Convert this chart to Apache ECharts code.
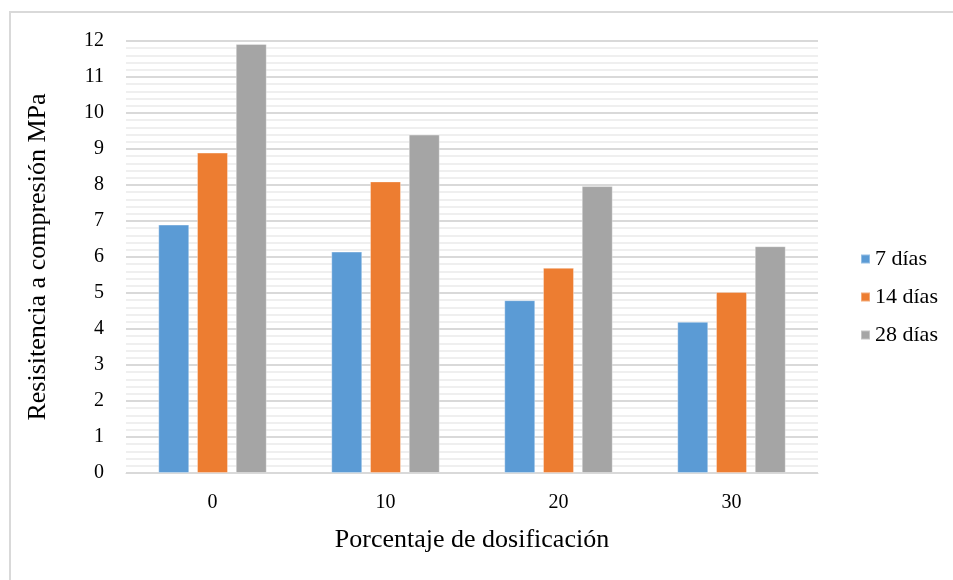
<!DOCTYPE html>
<html><head><meta charset="utf-8">
<script src="https://cdn.jsdelivr.net/npm/echarts@6/dist/echarts.min.js"></script>
<style>html,body{margin:0;padding:0;background:#fff}#c{width:953px;height:580px}</style>
</head><body><div id="c"></div>
<script>
const categories = ['0', '10', '20', '30'];
const seriesNames = ['7 días', '14 días', '28 días'];
const dias7 = [6.9, 6.15, 4.8, 4.2];
const dias14 = [8.9, 8.1, 5.7, 5.03];
const dias28 = [11.92, 9.4, 7.97, 6.3];
const yTicks = [0,1,2,3,4,5,6,7,8,9,10,11,12];
const colors = ['#5B9BD5', '#ED7D31', '#A5A5A5'];
const font = 'Liberation Serif, Times New Roman, serif';

const chart = echarts.init(document.getElementById('c'));
const mk = (name, data, i) => ({
  name, type: 'bar', data,
  barWidth: 31, barGap: '25%',
  itemStyle: { color: colors[i], borderColor: 'rgba(255,255,255,0.35)', borderWidth: 1 }
});
chart.setOption({
  animation: false,
  textStyle: { fontFamily: font },
  graphic: [{ type: 'rect', shape: { x: 10, y: 12, width: 960, height: 600 }, style: { fill: 'none', stroke: '#d9d9d9', lineWidth: 2 } }],
  grid: { left: 126, right: 135, top: 41, bottom: 107 },
  legend: {
    orient: 'vertical', left: 855, top: 243, itemGap: 16,
    itemWidth: 9, itemHeight: 9, icon: 'rect',
    textStyle: { fontFamily: font, fontSize: 22, lineHeight: 22, color: '#000' },
    data: seriesNames
  },
  xAxis: {
    type: 'category', data: categories,
    name: 'Porcentaje de dosificación', nameLocation: 'middle', nameGap: 54,
    nameTextStyle: { fontFamily: font, fontSize: 26, color: '#000' },
    axisLine: { lineStyle: { color: '#d9d9d9', width: 1 } },
    axisTick: { show: false },
    axisLabel: { fontFamily: font, fontSize: 20, color: '#000', margin: 20 }
  },
  yAxis: {
    type: 'value', min: 0, max: 12, interval: 1,
    name: 'Resisitencia a compresión MPa', nameLocation: 'middle', nameGap: 75,
    nameTextStyle: { fontFamily: font, fontSize: 26, color: '#000' },
    axisLine: { show: false }, axisTick: { show: false },
    axisLabel: { fontFamily: font, fontSize: 20, color: '#000', margin: 22,
      formatter: v => yTicks.includes(v) ? String(v) : '' },
    splitLine: { lineStyle: { color: '#d9d9d9', width: 2 } },
    minorTick: { show: false, splitNumber: 5 },
    minorSplitLine: { show: true, lineStyle: { color: '#efefef', width: 2 } }
  },
  series: [mk(seriesNames[0], dias7, 0), mk(seriesNames[1], dias14, 1), mk(seriesNames[2], dias28, 2)]
});
</script></body></html>
